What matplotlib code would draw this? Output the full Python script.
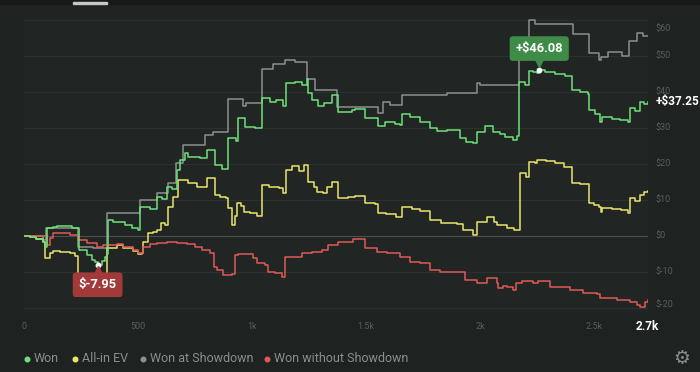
import numpy as np
import matplotlib.pyplot as plt
from matplotlib.lines import Line2D
from matplotlib.patches import Rectangle
from matplotlib import transforms

plt.rcParams['font.family'] = ['Roboto', 'DejaVu Sans']

TOTAL_HANDS = 2735

# Won (green)
won_x = [0, 26, 53, 83, 92, 100, 127, 145, 180, 211, 231, 243, 275, 297, 311, 323, 341, 355, 366,
         370, 390, 407, 443, 474, 501, 509, 553, 582, 605, 626, 649, 670, 684, 706, 721, 772, 801,
         838, 868, 896, 930, 940, 969, 1013, 1045, 1079, 1105, 1137, 1149, 1189, 1218, 1240, 1247,
         1262, 1289, 1316, 1349, 1371, 1379, 1408, 1437, 1452, 1496, 1553, 1583, 1627, 1649, 1657,
         1693, 1737, 1781, 1811, 1855, 1912, 1939, 1969, 1986, 2022, 2057, 2088, 2110, 2145, 2163,
         2173, 2198, 2216, 2233, 2250, 2260, 2285, 2329, 2373, 2402, 2439, 2474, 2480, 2505, 2526,
         2535, 2579, 2614, 2649, 2658, 2680, 2702, 2719, 2735]
won = [0, -0.3, -0.9, -1.6, -3.0, 2.2, 2.6, 2.9, 2.7, 2.3, 2.1, -3.9, -5.3, -6.7, -7.3, -7.95, -7.0, -5.7, -5.0,
       4.4, 3.9, 4.0, 3.0, 2.3, 1.7, 8.1, 7.5, 10.9, 10.2, 13.7, 13.0, 18.3, 21.1, 23.0, 22.0, 21.6, 23.9,
       19.7, 18.6, 27.1, 26.5, 32.7, 30.4, 30.0, 38.2, 37.3, 37.8, 36.0, 42.4, 42.9, 41.9, 43.5, 39.6,
       37.8, 36.0, 37.0, 39.2, 39.2, 34.5, 34.5, 35.0, 35.2, 32.7, 30.5, 31.7, 31.2, 30.8, 33.9,
       33.0, 31.7, 29.9, 29.3, 29.5, 27.1, 26.2, 25.7, 29.0, 30.6, 29.0, 28.2, 27.6, 26.8, 27.7,
       42.9, 41.9, 45.8, 45.6, 45.2, 46.08, 45.5, 45.0, 44.5, 40.6, 40.0, 39.4, 35.0, 34.0, 31.7,
       33.1, 32.5, 32.2, 31.7, 35.5, 34.8, 37.3, 36.8, 37.25]

# All-in EV (yellow)
ev_x = [0, 26, 53, 83, 92, 114, 129, 160, 187, 202, 224, 238, 365, 407, 436, 480, 501, 516, 523,
        545, 567, 582, 600, 620, 633, 654, 677, 706, 721, 760, 801, 838, 860, 885, 896, 913, 925,
        935, 950, 965, 990, 1020, 1045, 1075, 1120, 1137, 1149, 1175, 1205, 1230, 1247, 1270, 1285,
        1310, 1330, 1350, 1379, 1420, 1452, 1496, 1540, 1553, 1590, 1630, 1657, 1700, 1737, 1781,
        1830, 1900, 1925, 1969, 1986, 2030, 2060, 2075, 2120, 2150, 2175, 2200, 2216, 2240, 2250,
        2290, 2330, 2370, 2402, 2440, 2480, 2500, 2520, 2530, 2535, 2580, 2620, 2649, 2658, 2680,
        2700, 2720, 2735]
ev = [0, -0.3, -0.9, -1.6, -6.2, -4.8, -4.2, -4.4, -4.5, -4.6, -5.5, -12.0, -3.2, -2.5, -3.2, -4.1, -5.0, -4.7, -1.6,
      0.75, 1.0, 1.7, 3.5, 3.0, 8.1, 10.9, 15.6, 15.6, 14.6, 13.7, 16.0, 11.4, 10.9, 10.5, 7.7, 3.1, 5.5,
      9.1, 8.2, 6.8, 6.4, 5.5, 14.2, 13.7, 13.3, 11.9, 18.3, 19.4, 18.0, 19.7, 15.1, 13.7, 12.3,
      11.9, 13.5, 15.1, 10.5, 10.9, 11.1, 9.1, 8.8, 6.3, 6.0, 5.4, 8.1, 7.5, 7.0, 4.4,
      3.5, 3.2, 1.7, 0.3, 4.0, 5.4, 4.0, 3.1, 2.2, 1.7, 17.4, 16.5, 20.6, 20.2, 21.1,
      20.8, 20.2, 19.3, 14.6, 14.4, 9.3, 8.6, 8.1, 6.8, 7.8, 7.5, 7.2, 6.3, 10.5, 9.8,
      11.5, 12.3, 12.5]

# Won at Showdown (gray)
sd_x = [0, 83, 95, 238, 304, 366, 509, 582, 631, 668, 697, 794, 830, 896, 962, 975, 1045, 1094,
        1144, 1189, 1240, 1276, 1371, 1553, 1575, 1605, 1657, 1854, 1986, 2000, 2173, 2216, 2243,
        2409, 2480, 2520, 2530, 2563, 2621, 2654, 2689, 2715, 2735]
sd = [0, -1.1, 2.1, -3.0, -3.4, 6.3, 10.0, 11.9, 14.8, 20.2, 25.3, 28.1, 29.0, 38.0, 36.0, 36.9, 46.3, 47.8,
      48.9, 48.4, 43.5, 40.6, 35.9, 34.1, 37.3, 36.4, 39.2, 39.6, 42.6, 41.9, 52.0, 60.0, 58.9,
      56.0, 50.9, 48.9, 49.6, 51.2, 50.0, 54.3, 56.3, 55.6, 55.6]

# Won without Showdown (red)
nsd_x = [0, 83, 100, 114, 129, 158, 202, 238, 275, 319, 348, 407, 436, 480, 501, 523, 553, 582,
         626, 670, 714, 750, 779, 816, 835, 845, 874, 911, 925, 939, 1004, 1020, 1057, 1072, 1101,
         1130, 1145, 1218, 1262, 1306, 1335, 1379, 1422, 1444, 1487, 1496, 1547, 1591, 1649, 1693,
         1737, 1781, 1825, 1898, 1934, 1986, 2029, 2073, 2080, 2100, 2117, 2145, 2160, 2183, 2233,
         2254, 2307, 2395, 2452, 2512, 2526, 2600, 2658, 2687, 2702, 2724, 2735]
nsd = [0, 0, -2.5, -0.6, 0.75, 0.75, 0.3, -1.1, -2.0, -3.1, -2.5, -2.3, -3.0, -3.9, -4.8, -3.0, -2.3, -2.0,
       -1.6, -2.0, -2.3, -3.0, -3.9, -4.8, -8.5, -9.4, -10.8, -10.5, -5.3, -5.0, -6.1, -7.6, -8.0, -9.9, -10.4,
       -11.3, -5.7, -4.8, -4.5, -3.9, -2.5, -1.8, -1.6, -0.9, -0.9, -3.4, -4.4, -4.8, -5.7, -7.1,
       -7.6, -9.4, -9.9, -9.9, -12.2, -13.1, -11.8, -13.1, -14.5, -13.8, -14.1, -15.0, -13.1, -12.4, -13.1,
       -12.6, -14.1, -15.0, -15.9, -16.2, -17.3, -17.8, -18.2, -19.2, -19.8, -18.2, -17.9]

series_names = ['Won', 'All-in EV', 'Won at Showdown', 'Won without Showdown']
series_colors = ['#6ee07a', '#ebe46c', '#8e8f8f', '#e05a55']

y_ticks = [60, 50, 40, 30, 20, 10, 0, -10, -20]
x_ticks = [0, 500, 1000, 1500, 2000, 2500]
x_tick_labels = ['0', '500', '1k', '1.5k', '2k', '2.5k']

BG = '#1e2221'
AX_BG = '#212524'
DIM = '#595e5c'

fig = plt.figure(figsize=(7, 3.72), dpi=100, facecolor=BG)
ax = fig.add_axes([24/700, 0.16237, 624/700, 0.79355])
ax.set_facecolor(AX_BG)
for s in ax.spines.values():
    s.set_visible(False)

# top strip with tab marker
fig.patches.append(Rectangle((0, 1 - 4/372), 1, 4/372, transform=fig.transFigure, color='#161918', zorder=0))
fig.patches.append(Rectangle((73/700, 1 - 4/372), 34/700, 2/372, transform=fig.transFigure, color='#c4c7c6', zorder=1))

for v in y_ticks:
    ax.axhline(v, color='#4b504e' if v == 0 else '#2c302f', lw=0.8, zorder=1)

lw = 1.1
ax.plot(sd_x, sd, drawstyle='steps-post', color=series_colors[2], lw=lw, zorder=2)
ax.plot(ev_x, ev, drawstyle='steps-post', color=series_colors[1], lw=lw, zorder=3)
ax.plot(nsd_x, nsd, drawstyle='steps-post', color=series_colors[3], lw=lw, zorder=4)
ax.plot(won_x, won, drawstyle='steps-post', color=series_colors[0], lw=lw, zorder=5)

ax.set_xlim(0, 2737)
ax.set_ylim(-21, 61)
ax.set_xticks([])
ax.set_yticks([])

# y labels on the right
ytr = transforms.blended_transform_factory(ax.transAxes, ax.transData)
for v in y_ticks:
    ax.text(1.0 + 7.7/624, min(max(v, -19.1), 57.5), f'${v}', transform=ytr, color=DIM,
            fontsize=6.5, ha='left', va='center')

# x labels
xtr = transforms.blended_transform_factory(ax.transData, ax.transAxes)
for v, lab in zip(x_ticks, x_tick_labels):
    ax.text(v, -14.5/295.2, lab, transform=xtr, color=DIM, fontsize=6.5, ha='center', va='center')
ax.text(TOTAL_HANDS, -14.5/295.2, '2.7k', transform=xtr, color='white', fontsize=8.5,
        fontweight='bold', ha='center', va='center')

# last value of Won
ax.text(1.0 + 8/624, won[-1], f'+${won[-1]:.2f}', transform=ytr, color='white', fontsize=8.5,
        fontweight='bold', ha='left', va='center', clip_on=False)

# max / min markers
i_max = int(np.argmax(won))
i_min = int(np.argmin(won))
for i, up, fc in [(i_max, True, '#3e8c48'), (i_min, False, '#a33a3a')]:
    xv, yv = won_x[i], won[i]
    label = f'+${yv:.2f}' if yv >= 0 else f'${yv:.2f}'
    ax.plot([xv], [yv], 'o', color='white', ms=3.2, zorder=7)
    off = 15.5 if up else -14.5
    ax.annotate(label, xy=(xv, yv), xytext=(0, off), textcoords='offset points',
                ha='center', va='center', color='white', fontsize=9.3, fontweight='bold',
                bbox=dict(boxstyle='round,pad=0.45,rounding_size=0.25', fc=fc, ec='none'), zorder=8)
    tri = transforms.offset_copy(ax.transData, fig=fig, x=0, y=5 if up else -3.9, units='points')
    ax.plot([xv], [yv], 'v' if up else '^', color=fc, ms=5.5, transform=tri, zorder=8)

# legend
dot_x = [26.7, 75, 143, 266.7]
for name, c, dx in zip(series_names, series_colors, dot_x):
    fig.add_artist(Line2D([dx/700], [1 - 359/372], marker='o', ms=3.3, color=c, lw=0,
                          transform=fig.transFigure))
    fig.text((dx + 7)/700, 1 - 359/372, name, color='#8a8f8c', fontsize=9, ha='left', va='center')
fig.text(682/700, 1 - 358/372, '\u2699', color='#8a8f8c', fontsize=13.5, ha='center', va='center',
         family='DejaVu Sans')

fig.savefig('out.png', dpi=100, facecolor=BG)
